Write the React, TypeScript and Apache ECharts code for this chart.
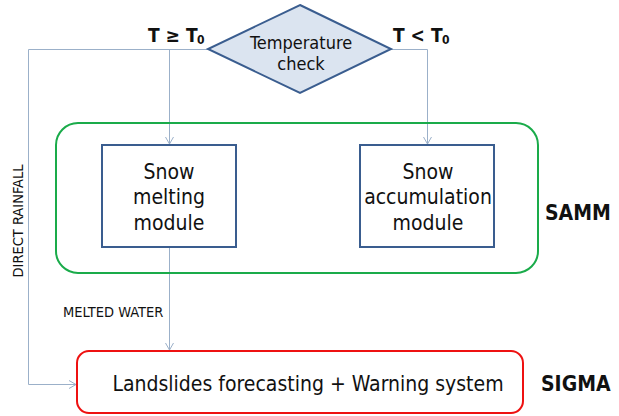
import React, { useEffect, useRef } from "react";
import * as echarts from "echarts";

const decisionLines = ["Temperature", "check"];
const leftCondition = ["T ≥ T", "0"];
const rightCondition = ["T < T", "0"];
const meltingLines = ["Snow", "melting", "module"];
const accumulationLines = ["Snow", "accumulation", "module"];
const forecastLabel = "Landslides forecasting + Warning system";
const groupLabels = ["SAMM", "SIGMA"];
const flowLabels = ["DIRECT RAINFALL", "MELTED WATER"];

const FONT = "'DejaVu Sans Condensed', 'DejaVu Sans', sans-serif";
const LINE = "#9bb0c9";
const BOX = "#3a5d8f";

function arrowDown(x: number, y: number) {
  return {
    type: "polyline",
    shape: { points: [[x - 4, y - 7], [x, y], [x + 4, y - 7]] },
    style: { stroke: LINE, lineWidth: 1, fill: null },
  };
}
function arrowRight(x: number, y: number) {
  return {
    type: "polyline",
    shape: { points: [[x - 7, y - 4], [x, y], [x - 7, y + 4]] },
    style: { stroke: LINE, lineWidth: 1, fill: null },
  };
}
function seg(x1: number, y1: number, x2: number, y2: number) {
  return {
    type: "line",
    shape: { x1, y1, x2, y2 },
    style: { stroke: LINE, lineWidth: 1 },
  };
}
function textLines(lines: string[], cx: number, cy: number, lh: number, size: number) {
  const n = lines.length;
  return lines.map((t, i) => ({
    type: "text",
    x: cx,
    y: cy + (i - (n - 1) / 2) * lh,
    style: {
      text: t,
      fontSize: size,
      fontFamily: FONT,
      fill: "#111",
      align: "center",
      verticalAlign: "middle",
    },
  }));
}
function label(text: string, x: number, y: number, size: number, bold: boolean, extra: any = {}) {
  return {
    type: "text",
    x,
    y,
    ...extra,
    style: {
      text,
      fontSize: size,
      fontWeight: bold ? "bold" : "normal",
      fontFamily: FONT,
      fill: "#111",
      align: extra.align || "left",
      verticalAlign: "middle",
    },
  };
}

export default function App() {
  const ref = useRef<HTMLDivElement>(null);
  useEffect(() => {
    if (!ref.current) return;
    const chart = echarts.init(ref.current, undefined, { renderer: "svg" });
    const elements: any[] = [
      seg(28.5, 49.5, 208, 49.5),
      seg(391, 49.5, 427.5, 49.5),
      seg(28.5, 49.5, 28.5, 384.5),
      seg(28.5, 384.5, 76, 384.5),
      seg(169.5, 49.5, 169.5, 144),
      seg(427.5, 49.5, 427.5, 144),
      seg(169.5, 247, 169.5, 350),
      arrowDown(169.5, 144),
      arrowDown(427.5, 144),
      arrowDown(169.5, 350),
      arrowRight(76, 384.5),
      {
        type: "rect",
        shape: { x: 56, y: 123, width: 482, height: 150, r: 22 },
        style: { stroke: "#1aab4a", lineWidth: 2, fill: null },
      },
      {
        type: "rect",
        shape: { x: 77, y: 351, width: 446, height: 62, r: 12 },
        style: { stroke: "#ee1111", lineWidth: 2, fill: "#fff" },
      },
      {
        type: "polygon",
        shape: { points: [[300, 5], [391, 49], [300, 93], [208, 49]] },
        style: { fill: "#dbe4f0", stroke: BOX, lineWidth: 2 },
      },
      {
        type: "rect",
        shape: { x: 102, y: 145, width: 134, height: 102 },
        style: { fill: "#fff", stroke: BOX, lineWidth: 2 },
      },
      {
        type: "rect",
        shape: { x: 360, y: 145, width: 134, height: 102 },
        style: { fill: "#fff", stroke: BOX, lineWidth: 2 },
      },
      ...textLines(decisionLines, 301, 53, 21, 18),
      ...textLines(meltingLines, 169, 197, 25.5, 21),
      ...textLines(accumulationLines, 428, 197, 25.5, 21),
      ...textLines([forecastLabel], 308, 384, 20, 21),
      label(leftCondition[0], 148, 35, 19, true),
      label(leftCondition[1], 197, 40, 12, true),
      label(rightCondition[0], 393, 35, 19, true),
      label(rightCondition[1], 442, 40, 12, true),
      label(groupLabels[0], 545, 213, 21, true),
      label(groupLabels[1], 541, 384, 21, true),
      label(flowLabels[0], 18, 221, 14.5, false, { rotation: Math.PI / 2, align: "center" }),
      label(flowLabels[1], 63, 312, 14.5, false),
    ];
    chart.setOption({
      animation: false,
      backgroundColor: "#fff",
      graphic: { elements },
    });
    return () => chart.dispose();
  }, []);
  return (
    <div
      ref={ref}
      style={{ position: "fixed", left: 0, top: 0, width: 619, height: 416 }}
    />
  );
}
